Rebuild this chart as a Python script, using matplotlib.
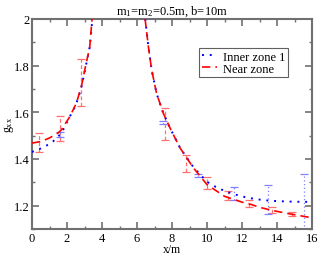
import matplotlib
matplotlib.use("Agg")
import matplotlib.pyplot as plt
import matplotlib.ticker as tck
import numpy as np

plt.rcParams['font.family'] = ['Liberation Serif', 'DejaVu Serif']
plt.rcParams['mathtext.fontset'] = 'custom'
plt.rcParams['mathtext.rm'] = 'Liberation Serif'
plt.rcParams['mathtext.it'] = 'Liberation Serif'

# inner zone 1 (blue dotted), both branches
inner_x_left = [0.0, 0.5, 0.82, 1.2, 1.68, 2.06, 2.5, 2.8, 3.0, 3.3, 3.45]
inner_y_left = [1.430, 1.445, 1.457, 1.475, 1.510, 1.567, 1.630, 1.700, 1.770, 1.880, 2.0]
inner_x_right = [6.47, 6.65, 6.84, 7.12, 7.5, 7.89, 8.46, 9.22, 10.0, 10.5, 11.0, 11.5, 12.3, 13.0, 13.6, 14.5, 15.0, 16.0]
inner_y_right = [2.0, 1.88, 1.78, 1.68, 1.596, 1.532, 1.447, 1.365, 1.302, 1.280, 1.263, 1.250, 1.234, 1.226, 1.221, 1.218, 1.217, 1.216]

# near zone (red dashed)
near_x_left = [0.0, 0.53, 1.0, 1.5, 1.68, 2.15, 2.53, 2.82, 3.01, 3.30, 3.43]
near_y_left = [1.468, 1.475, 1.490, 1.512, 1.525, 1.580, 1.638, 1.710, 1.780, 1.880, 2.0]
near_x_right = [6.46, 6.65, 6.84, 7.12, 7.5, 7.89, 8.46, 9.22, 10.0, 11.0, 12.0, 12.4, 13.0, 13.7, 14.85, 16.0]
near_y_right = [2.0, 1.88, 1.78, 1.68, 1.596, 1.532, 1.447, 1.362, 1.290, 1.240, 1.215, 1.208, 1.193, 1.180, 1.163, 1.148]

# error bars (x, lower, upper)
near_err_x = [0.4, 1.6, 2.8, 7.6, 8.8, 10.0, 11.2, 12.4, 13.7, 14.85]
near_err_lo = [1.428, 1.478, 1.627, 1.480, 1.343, 1.272, 1.224, 1.196, 1.169, 1.156]
near_err_hi = [1.511, 1.582, 1.830, 1.620, 1.418, 1.322, 1.262, 1.223, 1.194, 1.174]

inner_err_x = [1.6, 7.5, 9.5, 11.55, 13.5, 15.55]
inner_err_lo = [1.495, 1.548, 1.322, 1.223, 1.163, 1.05]
inner_err_hi = [1.515, 1.562, 1.337, 1.281, 1.288, 1.336]

fig = plt.figure(figsize=(3.19, 2.55), dpi=100)
ax = fig.add_axes([0.1003, 0.098, 0.878, 0.824])

def draw_err(xs, lo, hi, color, ls):
    lo = np.array(lo)
    hi = np.array(hi)
    mid = (lo + hi) / 2
    half = (hi - lo) / 2
    _, caps, bars = ax.errorbar(xs, mid, yerr=half, fmt='none', ecolor=color,
                                elinewidth=0.9, capsize=3, capthick=0.9, zorder=2)
    bars[0].set_linestyle(ls)

draw_err(near_err_x, near_err_lo, near_err_hi, '#ff7070', (0, (3, 2)))
draw_err(inner_err_x, inner_err_lo, inner_err_hi, '#8080ff', (0, (1, 2)))

blue_ls = (0, (1, 3))
red_ls = (0, (5, 3))
ax.plot(inner_x_left, inner_y_left, color='blue', ls=blue_ls, lw=1.4, label='Inner zone 1', zorder=3)
ax.plot(inner_x_right, inner_y_right, color='blue', ls=blue_ls, lw=1.4, zorder=3)
ax.plot(near_x_left, near_y_left, color='red', ls=red_ls, lw=1.2, label='Near zone', zorder=4)
ax.plot(near_x_right, near_y_right, color='red', ls=red_ls, lw=1.2, zorder=4)

ax.set_xlim(0, 16)
ax.set_ylim(1.1, 2.0)
ax.xaxis.set_major_locator(tck.MultipleLocator(2))
ax.xaxis.set_minor_locator(tck.MultipleLocator(1))
ax.yaxis.set_major_locator(tck.FixedLocator([1.2, 1.4, 1.6, 1.8, 2.0]))
ax.yaxis.set_minor_locator(tck.MultipleLocator(0.1))
ax.yaxis.set_major_formatter(tck.FuncFormatter(lambda v, p: '%g' % round(v, 1)))

ax.tick_params(which='both', direction='in', top=True, right=True,
               color='#707070', labelsize=9, pad=2)
ax.tick_params(which='major', length=5, width=1.2)
ax.tick_params(which='minor', length=2.5, width=1.0)
for s in ax.spines.values():
    s.set_color('#707070')
    s.set_linewidth(1.5)

ax.set_xlabel('x/m', fontsize=8.5)
ax.xaxis.set_label_coords(0.5, -0.066)
ax.set_ylabel('g$_{\\mathrm{xx}}$', fontsize=8.5)
ax.yaxis.set_label_coords(-0.058, 0.5)
ax.set_title('m$_1$=m$_2$=0.5m, b=10m', fontsize=9, pad=4)

leg = ax.legend(loc='upper left', bbox_to_anchor=(0.598, 0.86), fontsize=9,
                handlelength=1.2, handletextpad=0.5, borderpad=0.2,
                labelspacing=0.0, borderaxespad=0, fancybox=False, framealpha=1)
leg.get_frame().set_edgecolor('#606060')
leg.get_frame().set_linewidth(0.8)

fig.savefig('out.png', dpi=100)
